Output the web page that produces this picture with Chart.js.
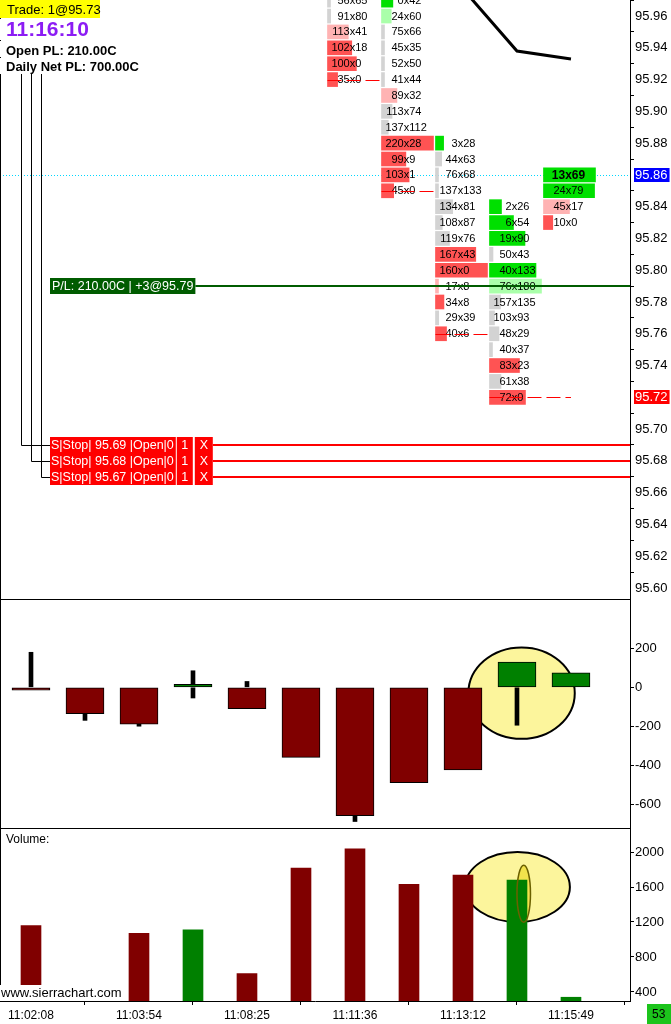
<!DOCTYPE html>
<html>
<head>
<meta charset="utf-8">
<script src="https://cdn.jsdelivr.net/npm/chart.js@4.4.1/dist/chart.umd.min.js"></script>
<style>
  html, body { margin: 0; padding: 0; background: #fff; overflow: hidden; }
  canvas { position: absolute; left: 0; display: block; }
  #price { top: 0; }
  #delta { top: 600px; }
  #vol { top: 829px; }
</style>
</head>
<body>
<canvas id="price" width="671" height="600"></canvas>
<canvas id="delta" width="671" height="229"></canvas>
<canvas id="vol" width="671" height="195"></canvas>
<script>
// bars are numbered 0..10, only every second one has a time label
const tickBars = [0, 2, 4, 6, 8, 10];
const tickLabels = ['11:02:08', '11:03:54', '11:08:25', '11:11:36', '11:13:12', '11:15:49'];

// delta candles (open is always 0)
const deltaClose = [-15, -135, -190, 15, -110, -360, -660, -490, -425, 130, 75];
const deltaHigh  = [180, 0, 0, 85, 30, 0, 0, 0, 0, 130, 75];
const deltaLow   = [-15, -170, -200, -55, -110, -360, -690, -490, -425, -195, 0];
const deltaTicks = [200, 0, -200, -400, -600];

const volume = [1160, 240, 1070, 1110, 610, 1815, 2035, 1630, 1735, 1680, 340];
const volumeTicks = [400, 800, 1200, 1600, 2000];

const priceTicks = [95.60, 95.62, 95.64, 95.66, 95.68, 95.70, 95.72, 95.74, 95.76, 95.78,
                    95.80, 95.82, 95.84, 95.86, 95.88, 95.90, 95.92, 95.94, 95.96];

// footprint: bid x ask per price, from the top price of each bar down
const fpBar = [6, 7, 8, 9, 10];
const fpHigh = [95.97, 95.97, 95.88, 95.84, 95.86];
const fpBid = [
  [56, 91, 113, 102, 100, 35],
  [0, 24, 75, 45, 52, 41, 89, 113, 137, 220, 99, 103, 45],
  [3, 44, 76, 137, 134, 108, 119, 167, 160, 17, 34, 29, 40],
  [2, 6, 19, 50, 40, 76, 157, 103, 48, 40, 83, 61, 72],
  [13, 24, 45, 10]
];
const fpAsk = [
  [65, 80, 41, 18, 0, 0],
  [42, 60, 66, 35, 50, 44, 32, 74, 112, 28, 9, 1, 0],
  [28, 63, 68, 133, 81, 87, 76, 43, 0, 8, 8, 39, 6],
  [26, 54, 90, 43, 133, 180, 135, 93, 29, 37, 23, 38, 0],
  [69, 79, 17, 0]
];
const fpFullDelta = [180, 192, 160, 104, 56];
const fpClose = [95.92, 95.85, 95.76, 95.72];

// moving line in the price pane
const maBars = [7, 8, 9, 10];
const maValues = [95.99, 95.977, 95.938, 95.933];

const lastPrice = 95.86;
const bidMarker = 95.72;
const tradeQty = 1, tradePrice = 95.73;
const clock = '11:16:10';
const openPL = 210, dailyPL = 700;
const posQty = 3, posPrice = 95.79;
const stopPrices = [95.69, 95.68, 95.67];
const stopQty = [1, 1, 1];
const barVolumeLabel = 53;

const FONT = '"Liberation Sans", Arial, sans-serif';
const MAROON = '#800000', DKGREEN = '#008000';
const X_MIN = -0.574, X_MAX = 11.093;

Chart.defaults.font.family = FONT;
Chart.defaults.color = '#000';

function cellColor(b, a) {
  if (a > b) { const r = b === 0 ? 99 : a / b; return r >= 3 ? '#00e000' : r >= 2 ? '#aaffaa' : '#d3d3d3'; }
  if (b > a) { const r = a === 0 ? 99 : b / a; return r >= 3 ? '#ff5353' : r >= 2 ? '#ffb3b3' : '#d3d3d3'; }
  return '#d3d3d3';
}

const cells = [];
fpBar.forEach((bar, c) => {
  fpBid[c].forEach((bid, r) => {
    const ask = fpAsk[c][r];
    const price = +(fpHigh[c] - r * 0.01).toFixed(2);
    const w = Math.max(3, Math.abs(ask - bid) / fpFullDelta[c] * 52) / 54;
    const x0 = bar - 27.5 / 54;
    cells.push({ bar, price, bid, ask, x: [x0, x0 + w], color: cellColor(bid, ask),
                 bold: bar === 10 && price === lastPrice });
  });
});

function yAxis(min, max, ticks, fmt) {
  return {
    type: 'linear', position: 'right', min, max, offset: false,
    afterBuildTicks: s => { s.ticks = ticks.map(v => ({ value: v })); },
    afterFit: s => { s.width = 41; s.paddingTop = 0; s.paddingBottom = 0; },
    grid: { drawOnChartArea: false, drawTicks: true, tickLength: 4, color: '#000', tickColor: '#000' },
    border: { display: true, color: '#000' },
    ticks: { color: '#000', padding: 1, autoSkip: false, font: { size: 13 }, callback: fmt }
  };
}

function xAxis(show) {
  return {
    type: 'linear', min: X_MIN, max: X_MAX, offset: false, display: show,
    afterBuildTicks: s => { s.ticks = tickBars.map(v => ({ value: v })); },
    afterFit: s => { if (show) s.height = 23; s.paddingLeft = 0; s.paddingRight = 0; },
    grid: { drawOnChartArea: false, drawTicks: true, tickLength: 4, color: '#000', tickColor: '#000' },
    border: { display: true, color: '#000' },
    ticks: { color: '#000', padding: 3, autoSkip: false, maxRotation: 0, font: { size: 12 },
             callback: (v, i) => tickLabels[i] }
  };
}

const baseOptions = {
  responsive: false, animation: false, events: [],
  layout: { padding: 0, autoPadding: false },
};

const framePlugin = {
  id: 'frame',
  afterDraw(chart, args, opts) {
    const { ctx, chartArea: a } = chart;
    ctx.save();
    ctx.strokeStyle = '#000'; ctx.lineWidth = 1;
    ctx.beginPath();
    ctx.moveTo(0.5, a.top); ctx.lineTo(0.5, a.bottom);
    ctx.moveTo(a.right + 0.5, a.top); ctx.lineTo(a.right + 0.5, a.bottom);
    if (opts.bottom) { ctx.moveTo(0, a.bottom - 0.5); ctx.lineTo(a.right, a.bottom - 0.5); }
    ctx.stroke();
    ctx.restore();
  }
};

function ellipsePath(ctx, x, y, e) {
  const x0 = x.getPixelForValue(e.x0), x1 = x.getPixelForValue(e.x1);
  const y0 = y.getPixelForValue(e.y0), y1 = y.getPixelForValue(e.y1);
  ctx.beginPath();
  ctx.ellipse((x0 + x1) / 2, (y0 + y1) / 2, Math.abs(x1 - x0) / 2, Math.abs(y1 - y0) / 2, 0, 0, Math.PI * 2);
}

// ---------- price pane ----------
const fpPlugin = {
  id: 'fp',
  beforeDatasetsDraw(chart) {
    const { ctx, chartArea: a, scales: { y } } = chart;
    const yy = Math.round(y.getPixelForValue(lastPrice)) + 0.5;
    ctx.save();
    ctx.strokeStyle = '#00d8ff'; ctx.lineWidth = 1; ctx.setLineDash([1, 2]);
    ctx.beginPath(); ctx.moveTo(a.left, yy); ctx.lineTo(a.right, yy); ctx.stroke();
    ctx.restore();
  },
  afterDatasetsDraw(chart) {
    const { ctx, chartArea: a, scales: { x, y } } = chart;
    const meta = chart.getDatasetMeta(0);
    ctx.save();
    ctx.textBaseline = 'middle';
    ctx.fillStyle = '#000';
    cells.forEach((c, k) => {
      const el = meta.data[k];
      ctx.font = (c.bold ? 'bold 12px ' : '11px ') + FONT;
      const xw = ctx.measureText('x').width;
      const cx = x.getPixelForValue(c.bar) - 2.5;
      const cy = el.y + 0.5;
      ctx.textAlign = 'center'; ctx.fillText('x', cx, cy);
      ctx.textAlign = 'right'; ctx.fillText(String(c.bid), cx - xw / 2, cy);
      ctx.textAlign = 'left'; ctx.fillText(String(c.ask), cx + xw / 2, cy);
    });

    // close price markers
    ctx.strokeStyle = '#ff0000'; ctx.lineWidth = 1; ctx.setLineDash([14, 5]);
    fpClose.forEach((p, k) => {
      const x0 = x.getPixelForValue(fpBar[k] - 27.5 / 54);
      const x1 = k === fpClose.length - 1 ? x.getPixelForValue(fpBar[k] + 1) : x0 + 56;
      const yy = Math.round(y.getPixelForValue(p)) + 0.5;
      ctx.beginPath(); ctx.moveTo(x0, yy); ctx.lineTo(x1, yy); ctx.stroke();
    });
    ctx.setLineDash([]);

    ctx.font = '12.5px ' + FONT;
    ctx.textAlign = 'left';

    // position line
    {
      const yy = Math.round(y.getPixelForValue(posPrice));
      const t = 'P/L: ' + openPL.toFixed(2) + 'C | +' + posQty + '@' + posPrice.toFixed(2);
      const w = ctx.measureText(t).width + 4;
      ctx.fillStyle = '#005c00';
      ctx.fillRect(50, yy - 8, w, 16);
      ctx.strokeStyle = '#005c00'; ctx.lineWidth = 2;
      ctx.beginPath(); ctx.moveTo(50 + w, yy); ctx.lineTo(a.right, yy); ctx.stroke();
      ctx.fillStyle = '#fff';
      ctx.fillText(t, 52, yy + 0.5);
    }

    // stop orders
    stopPrices.forEach((p, k) => {
      const yy = Math.round(y.getPixelForValue(p));
      const cx = 21 + 10 * k + 0.5;
      ctx.strokeStyle = '#000'; ctx.lineWidth = 1;
      ctx.beginPath(); ctx.moveTo(cx, 74); ctx.lineTo(cx, yy + 0.5); ctx.lineTo(50, yy + 0.5); ctx.stroke();
      const t1 = 'S|Stop| ' + p.toFixed(2) + ' |Open|0';
      const w1 = ctx.measureText(t1).width + 3;
      const segs = [[t1, 50, w1], [String(stopQty[k]), 51 + w1, 16], ['X', 53 + w1 + 16, 18]];
      segs.forEach(([t, sx, sw]) => {
        ctx.fillStyle = '#ff0000';
        ctx.fillRect(sx, yy - 8, sw, 16);
        ctx.fillStyle = '#fff';
        ctx.textAlign = t === t1 ? 'left' : 'center';
        ctx.fillText(t, t === t1 ? sx + 1 : sx + sw / 2, yy + 0.5);
      });
      ctx.textAlign = 'left';
      const end = segs[2][1] + segs[2][2];
      ctx.strokeStyle = '#ff0000'; ctx.lineWidth = 2;
      ctx.beginPath(); ctx.moveTo(end, yy); ctx.lineTo(a.right, yy); ctx.stroke();
    });
    ctx.restore();
  },
  afterDraw(chart) {
    const { ctx, chartArea: a, scales: { y } } = chart;
    ctx.save();
    ctx.textAlign = 'left';
    ctx.textBaseline = 'alphabetic';

    // header
    ctx.fillStyle = '#ffff00'; ctx.fillRect(0, 0, 100, 18);
    ctx.fillStyle = '#000'; ctx.font = '13px ' + FONT;
    ctx.fillText('Trade: ' + tradeQty + '@' + tradePrice.toFixed(2), 7, 14);

    const lines = [
      [clock, 'bold 21px ', '#8c1cf4', 36, 19, 21],
      ['Open PL: ' + openPL.toFixed(2) + 'C', 'bold 13px ', '#000', 55, 41, 16],
      ['Daily Net PL: ' + dailyPL.toFixed(2) + 'C', 'bold 13px ', '#000', 71, 58, 16]
    ];
    lines.forEach(([t, f, col, base, top, h]) => {
      ctx.font = f + FONT;
      const w = ctx.measureText(t).width;
      ctx.fillStyle = '#fff'; ctx.fillRect(0, top, w + 10, h);
      ctx.fillStyle = col; ctx.fillText(t, 6, base);
    });

    // axis markers
    ctx.font = '13px ' + FONT;
    ctx.textBaseline = 'middle';
    [[lastPrice, '#0000ff'], [bidMarker, '#ff0000']].forEach(([v, bg]) => {
      const yy = Math.round(y.getPixelForValue(v));
      const t = v.toFixed(2);
      const w = ctx.measureText(t).width;
      ctx.fillStyle = bg; ctx.fillRect(a.right + 4, yy - 7, w + 3, 14);
      ctx.fillStyle = '#fff'; ctx.fillText(t, a.right + 5, yy + 0.5);
    });
    ctx.restore();
  }
};

new Chart(document.getElementById('price'), {
  type: 'bar',
  data: {
    datasets: [{
      type: 'bar', indexAxis: 'y', grouped: false,
      data: cells.map(c => ({ x: c.x, y: c.price })),
      backgroundColor: cells.map(c => c.color),
      borderWidth: 0, barThickness: 14
    }, {
      type: 'line',
      data: maBars.map((b, i) => ({ x: b, y: maValues[i] })),
      borderColor: '#000', borderWidth: 3, pointRadius: 0, tension: 0
    }]
  },
  options: {
    ...baseOptions,
    scales: {
      x: xAxis(false),
      y: yAxis(95.5924, 95.9701, priceTicks, v => Number(v).toFixed(2))
    },
    plugins: { legend: { display: false }, tooltip: { enabled: false }, frame: { bottom: true } }
  },
  plugins: [framePlugin, fpPlugin]
});

// ---------- delta pane ----------
const deltaEllipse = { x0: 8.1, x1: 10.07, y0: -265, y1: 205 };
// wick parts that stick out of the body
const upperWick = deltaHigh.map((h, i) => {
  const top = Math.max(0, deltaClose[i]);
  return h > top ? { x: i, y: [top, h] } : null;
}).filter(Boolean);
const lowerWick = deltaLow.map((l, i) => {
  const bot = Math.min(0, deltaClose[i]);
  return l < bot ? { x: i, y: [l, bot] } : null;
}).filter(Boolean);

new Chart(document.getElementById('delta'), {
  type: 'bar',
  data: {
    datasets: [{
      // candle bodies
      grouped: false,
      data: deltaClose.map((c, i) => ({ x: i, y: [0, c] })),
      backgroundColor: deltaClose.map(c => c >= 0 ? DKGREEN : MAROON),
      borderColor: '#000', borderWidth: 1, borderSkipped: false, barThickness: 38
    }, {
      grouped: false, data: upperWick,
      backgroundColor: '#000', borderWidth: 0, barThickness: 4
    }, {
      grouped: false, data: lowerWick,
      backgroundColor: '#000', borderWidth: 0, barThickness: 4
    }]
  },
  options: {
    ...baseOptions,
    scales: {
      x: xAxis(false),
      y: yAxis(-728.5, 448.8, deltaTicks, v => String(v))
    },
    plugins: { legend: { display: false }, tooltip: { enabled: false }, frame: { bottom: true } }
  },
  plugins: [framePlugin, {
    id: 'deltaMark',
    beforeDatasetsDraw(chart) {
      const { ctx, scales: { x, y } } = chart;
      ctx.save();
      ellipsePath(ctx, x, y, deltaEllipse);
      ctx.fillStyle = '#fcf59c'; ctx.fill();
      ctx.strokeStyle = '#000'; ctx.lineWidth = 2; ctx.stroke();
      ctx.restore();
    }
  }]
});

// ---------- volume pane ----------
const volEllipse = { x0: 8.04, x1: 9.98, y0: 1200, y1: 2000 };
const volMark = { x0: 9.0, x1: 9.25, y0: 1198, y1: 1850 };

new Chart(document.getElementById('vol'), {
  type: 'bar',
  data: {
    datasets: [{
      data: volume.map((v, i) => ({ x: i, y: v })),
      backgroundColor: deltaClose.map(c => c >= 0 ? DKGREEN : MAROON),
      borderWidth: 0, barThickness: 20
    }]
  },
  options: {
    ...baseOptions,
    scales: {
      x: xAxis(true),
      y: yAxis(297, 2263, volumeTicks, v => String(v))
    },
    plugins: { legend: { display: false }, tooltip: { enabled: false }, frame: { bottom: false } }
  },
  plugins: [framePlugin, {
    id: 'volMark',
    beforeDatasetsDraw(chart) {
      const { ctx, scales: { x, y } } = chart;
      ctx.save();
      ellipsePath(ctx, x, y, volEllipse);
      ctx.fillStyle = '#fcf59c'; ctx.fill();
      ctx.strokeStyle = '#000'; ctx.lineWidth = 2; ctx.stroke();
      ellipsePath(ctx, x, y, volMark);
      ctx.fillStyle = '#f2e24c'; ctx.fill();
      ctx.restore();
    },
    afterDatasetsDraw(chart) {
      const { ctx, scales: { x, y } } = chart;
      ctx.save();
      ellipsePath(ctx, x, y, volMark);
      ctx.strokeStyle = '#6b6000'; ctx.lineWidth = 1.5; ctx.stroke();
      ctx.restore();
    },
    afterDraw(chart) {
      const { ctx, chartArea: a } = chart;
      ctx.save();
      ctx.textAlign = 'left'; ctx.textBaseline = 'middle';
      ctx.fillStyle = '#000'; ctx.font = '12px ' + FONT;
      ctx.fillText('Volume:', 6, 11);
      ctx.fillStyle = '#fff'; ctx.fillRect(0, a.bottom - 16, 123, 16);
      ctx.fillStyle = '#000'; ctx.font = '13px ' + FONT;
      ctx.textBaseline = 'alphabetic';
      ctx.fillText('www.sierrachart.com', 1, a.bottom - 4);
      ctx.fillStyle = '#1cc41c'; ctx.fillRect(a.right + 17, a.bottom + 3, 24, 20);
      ctx.fillStyle = '#000'; ctx.font = '12px ' + FONT; ctx.textBaseline = 'middle';
      ctx.fillText(String(barVolumeLabel), a.right + 22, a.bottom + 13.5);
      ctx.restore();
    }
  }]
});
</script>
</body>
</html>
